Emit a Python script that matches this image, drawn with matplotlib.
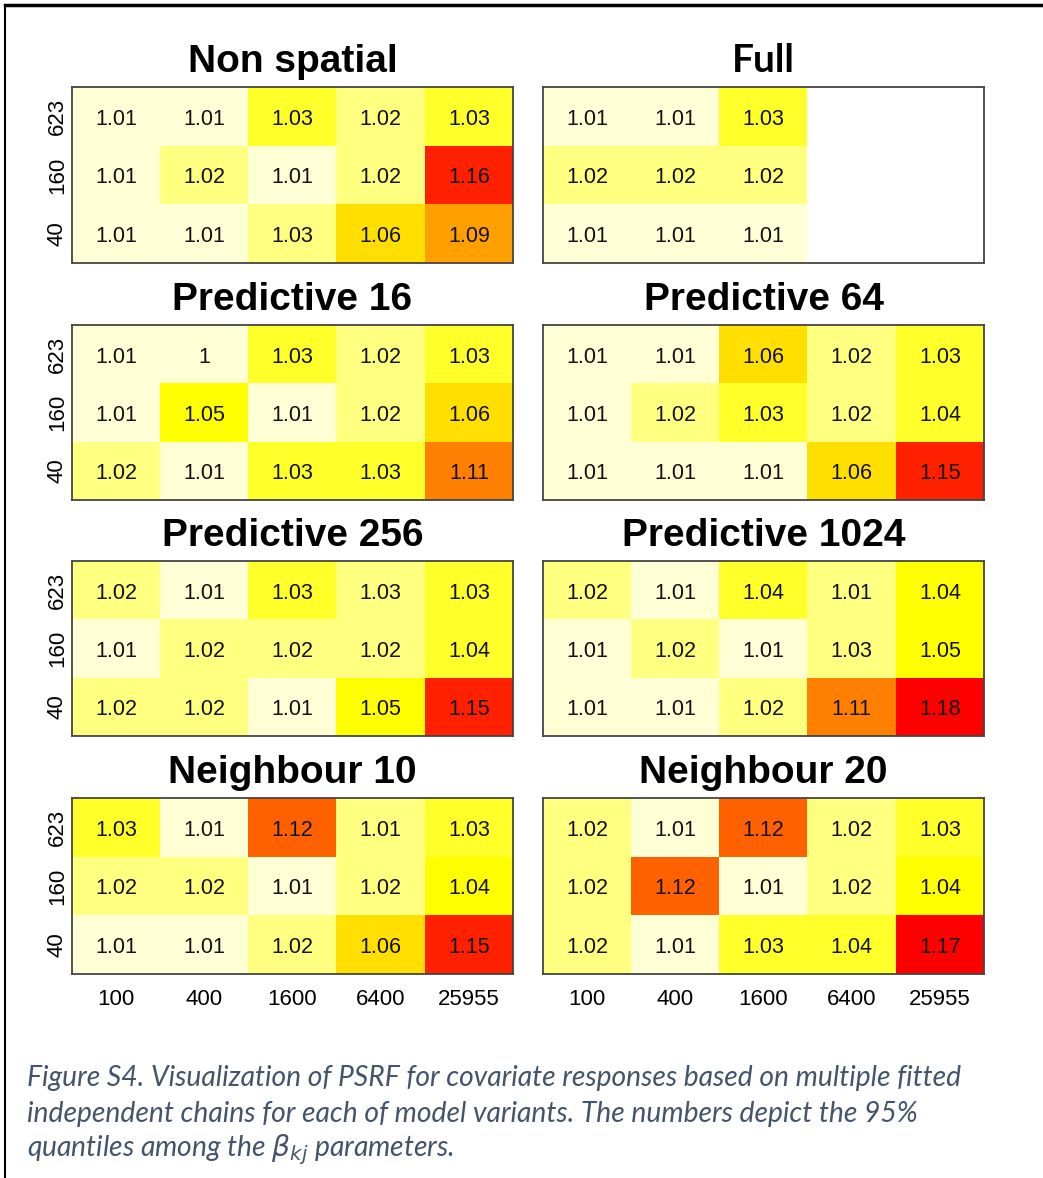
import numpy as np
import matplotlib
matplotlib.use("Agg")
import matplotlib.pyplot as plt
from matplotlib.colors import ListedColormap, BoundaryNorm
from matplotlib.lines import Line2D

plt.rcParams['font.family'] = ['Liberation Sans', 'DejaVu Sans']

# grid sizes of the fitted variants
n_units = ["100", "400", "1600", "6400", "25955"]   # columns
n_species = ["623", "160", "40"]                    # rows, top to bottom

# 95% quantile of PSRF per cell
non_spatial = [[1.008, 1.009, 1.032, 1.019, 1.031],
               [1.007, 1.018, 1.006, 1.021, 1.158],
               [1.009, 1.010, 1.026, 1.062, 1.091]]
full = [[1.008, 1.010, 1.031, np.nan, np.nan],
        [1.018, 1.020, 1.019, np.nan, np.nan],
        [1.007, 1.008, 1.010, np.nan, np.nan]]
pred16 = [[1.010, 1.003, 1.032, 1.020, 1.030],
          [1.009, 1.047, 1.008, 1.019, 1.061],
          [1.017, 1.009, 1.029, 1.031, 1.110]]
pred64 = [[1.009, 1.010, 1.061, 1.018, 1.032],
          [1.008, 1.021, 1.029, 1.020, 1.040],
          [1.010, 1.008, 1.011, 1.059, 1.152]]
pred256 = [[1.018, 1.009, 1.031, 1.026, 1.029],
           [1.010, 1.019, 1.020, 1.022, 1.038],
           [1.020, 1.016, 1.012, 1.048, 1.149]]
pred1024 = [[1.016, 1.008, 1.039, 1.014, 1.044],
            [1.010, 1.017, 1.009, 1.027, 1.050],
            [1.009, 1.011, 1.021, 1.108, 1.176]]
neigh10 = [[1.034, 1.009, 1.122, 1.014, 1.031],
           [1.019, 1.021, 1.008, 1.017, 1.044],
           [1.010, 1.009, 1.018, 1.062, 1.151]]
neigh20 = [[1.020, 1.010, 1.119, 1.018, 1.033],
           [1.021, 1.123, 1.008, 1.020, 1.044],
           [1.019, 1.009, 1.032, 1.038, 1.168]]

titles = ["Non spatial", "Full", "Predictive 16", "Predictive 64",
          "Predictive 256", "Predictive 1024", "Neighbour 10", "Neighbour 20"]
panels = [non_spatial, full, pred16, pred64, pred256, pred1024, neigh10, neigh20]

# rev(heat.colors(12))
heat = ["#FF0000", "#FF2000", "#FF4000", "#FF6000", "#FF8000", "#FF9F00",
        "#FFBF00", "#FFDF00", "#FFFF00", "#FFFF2A", "#FFFF80", "#FFFFD5"][::-1]
cmap = ListedColormap(heat)
cmap.set_bad("white")
cmap.set_over(heat[-1])
norm = BoundaryNorm(np.linspace(0.998, 1.178, 13), cmap.N)


def fmt(v):
    return f"{v:.2f}".rstrip("0").rstrip(".")


W, H = 1043, 1178
fig = plt.figure(figsize=(W / 100, H / 100), dpi=100)

col_x = [72, 543]
ax_w = 441
row_y = [(87, 263), (325, 500), (561, 736), (798, 974)]

for i, (title, vals) in enumerate(zip(titles, panels)):
    r, c = divmod(i, 2)
    y0, y1 = row_y[r]
    ax = fig.add_axes([col_x[c] / W, 1 - y1 / H, ax_w / W, (y1 - y0) / H])
    arr = np.ma.masked_invalid(np.array(vals, dtype=float))
    ax.imshow(arr, cmap=cmap, norm=norm, aspect="auto", interpolation="nearest")
    for ri in range(arr.shape[0]):
        for ci in range(arr.shape[1]):
            if not np.ma.is_masked(arr[ri, ci]):
                ax.text(ci, ri + 0.05, fmt(arr[ri, ci]), ha="center", va="center",
                        fontsize=15.5, color="#111111")
    ax.set_xticks(range(len(n_units)))
    ax.set_yticks(range(len(n_species)))
    if c == 0:
        ax.set_yticklabels(n_species, rotation=90, va="center", fontsize=16)
    else:
        ax.set_yticklabels([])
    if r == 3:
        ax.set_xticklabels(n_units, fontsize=16)
    else:
        ax.set_xticklabels([])
    ax.tick_params(length=0, pad=3)
    ax.tick_params(axis="x", pad=11)
    for s in ax.spines.values():
        s.set_color("#444444")
        s.set_linewidth(1.3)
    if title == "Full":
        ax.set_title(title, fontsize=28, fontweight="bold", family="Lato", pad=11)
    else:
        ax.set_title(title, fontsize=28, fontweight="bold", pad=11)

# frame of the figure box
fig.add_artist(Line2D([5 / W, 1], [1 - 5 / H, 1 - 5 / H], color="black", lw=2.5))
fig.add_artist(Line2D([5 / W, 5 / W], [0, 1 - 5 / H], color="black", lw=1.5))

caption = ["Figure S4. Visualization of PSRF for covariate responses based on multiple fitted",
           "independent chains for each of model variants. The numbers depict the 95%",
           r"quantiles among the $\beta_{kj}$ parameters."]
for k, line in enumerate(caption):
    fig.text(27 / W, 1 - (1078 + 36 * k) / H, line, fontsize=20.3, style="italic",
             family="Lato", color="#44546A", va="center", ha="left")

fig.savefig("out.png", dpi=100)
